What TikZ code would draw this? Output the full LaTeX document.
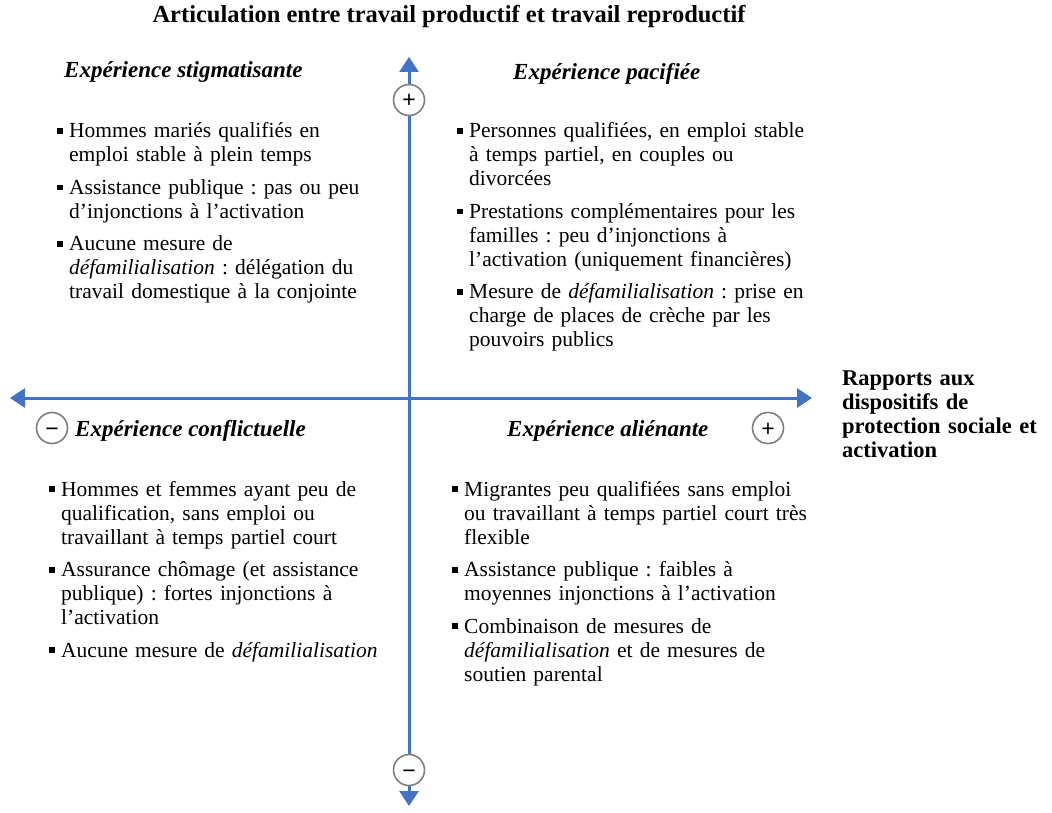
\documentclass[tikz,border=0pt]{standalone}
\usepackage{fontspec}
\setmainfont{Liberation Serif}
\newfontfamily\signfont{Liberation Sans}
\usetikzlibrary{arrows.meta}
\definecolor{axisblue}{HTML}{4472C4}
\definecolor{circgray}{HTML}{7F7F7F}
\newcommand\bul{\makebox[12pt][l]{\rule[4pt]{5.8pt}{5.8pt}}}
\newcommand\ind{\hspace*{12pt}}
\frenchspacing
\begin{document}
\begin{tikzpicture}[x=1pt,y=-1pt,
  axis/.style={axisblue, line width=3pt, {Triangle[width=19pt,length=15pt]}-{Triangle[width=19pt,length=15pt]}},
  sign/.style={circle, draw=circgray, line width=1.6pt, fill=white, minimum size=31pt, inner sep=0pt, text height=16pt, text depth=0pt, font=\fontsize{23}{23}\selectfont\signfont},
  head/.style={anchor=base west, inner sep=0pt, font=\fontsize{23}{28}\selectfont\bfseries\itshape},
  items/.style={anchor=base west, inner sep=0pt, text width=400pt, align=left, font=\fontsize{21.5}{24}\selectfont},
  lab/.style={anchor=base west, inner sep=0pt, text width=210pt, align=left, font=\fontsize{22.5}{24}\selectfont\bfseries}]
\useasboundingbox (0,0) rectangle (1052,813);

% title
\node[anchor=base, inner sep=0pt, font=\fontsize{24.5}{28}\selectfont\bfseries] (title) at (449,23) {Articulation entre travail productif et travail reproductif};

% axes
\coordinate (ytop) at (409,57);
\coordinate (ybot) at (409,806);
\coordinate (xleft) at (10,398);
\coordinate (xright) at (812,398);
\draw[axis] (ybot) -- (ytop);
\draw[axis] (xleft) -- (xright);

% signs
\node[sign] (splus) at (409,100) {+};
\node[sign] (sminus) at (409,770) {−};
\node[sign] (wminus) at (52,428) {−};
\node[sign] (eplus) at (768,428) {+};

% headings
\node[head] (h1) at (64,78) {Expérience stigmatisante};
\node[head] (h2) at (513,80) {Expérience pacifiée};
\node[head] (h3) at (75,436) {Expérience conflictuelle};
\node[head] (h4) at (507,436) {Expérience aliénante};

% items
\node[items] (q1) at (57,138) {\bul Hommes mariés qualifiés en\\
\ind emploi stable à plein temps\\[8.5pt]
\bul Assistance publique : pas ou peu\\
\ind d’injonctions à l’activation\\[8.5pt]
\bul Aucune mesure de\\
\ind \textit{défamilialisation} : délégation du\\
\ind travail domestique à la conjointe};

\node[items] (q2) at (457,138) {\bul Personnes qualifiées, en emploi stable\\
\ind à temps partiel, en couples ou\\
\ind divorcées\\[8.5pt]
\bul Prestations complémentaires pour les\\
\ind familles : peu d’injonctions à\\
\ind l’activation (uniquement financières)\\[8.5pt]
\bul Mesure de \textit{défamilialisation} : prise en\\
\ind charge de places de crèche par les\\
\ind pouvoirs publics};

\node[items] (q3) at (49,496) {\bul Hommes et femmes ayant peu de\\
\ind qualification, sans emploi ou\\
\ind travaillant à temps partiel court\\[8.5pt]
\bul Assurance chômage (et assistance\\
\ind publique) : fortes injonctions à\\
\ind l’activation\\[8.5pt]
\bul Aucune mesure de \textit{défamilialisation}};

\node[items] (q4) at (452,496) {\bul Migrantes peu qualifiées sans emploi\\
\ind ou travaillant à temps partiel court très\\
\ind flexible\\[8.5pt]
\bul Assistance publique : faibles à\\
\ind moyennes injonctions à l’activation\\[8.5pt]
\bul Combinaison de mesures de\\
\ind \textit{défamilialisation} et de mesures de\\
\ind soutien parental};

% right label
\node[lab] (axislab) at (842,385) {Rapports aux\\dispositifs de\\protection sociale et\\activation};
\end{tikzpicture}
\end{document}
